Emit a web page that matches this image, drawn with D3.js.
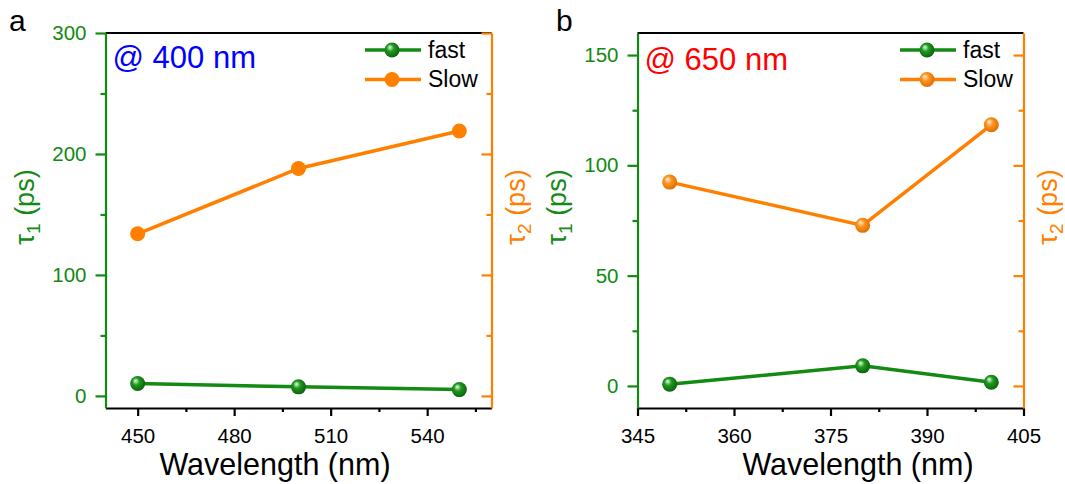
<!DOCTYPE html>
<html>
<head>
<meta charset="utf-8">
<script src="https://cdn.jsdelivr.net/npm/d3@7"></script>
<style>
    body { margin: 0; background: #fff; }
    svg { display: block; }
    text { font-family: "Liberation Sans", Arial, sans-serif; }
</style>
</head>
<body>
<div id="chart"></div>
<script>
// panel a (@ 400 nm)
const wavelengthsA = [450, 500, 550];
const fastA = [10.2, 7.5, 5.2];
const slowA = [134, 188, 219];
const xTicksA = [450, 480, 510, 540];
const xMinorA = [465, 495, 525, 555];
const yTicksA = [0, 100, 200, 300];
const yMinorA = [50, 150, 250];

// panel b (@ 650 nm)
const wavelengthsB = [350, 380, 400];
const fastB = [0.8, 9.1, 1.7];
const slowB = [92.4, 72.8, 118.4];
const xTicksB = [345, 360, 375, 390, 405];
const xMinorB = [352.5, 367.5, 382.5, 397.5];
const yTicksB = [0, 50, 100, 150];
const yMinorB = [25, 75, 125];

const seriesNames = ["fast", "Slow"];

const green = "#138a13";
const orange = "#ff8000";
const font = "'Liberation Sans', Arial, sans-serif";

let svg = d3.select("#chart").append("svg")
    .attr("width", 1065)
    .attr("height", 484);

// sphere-like marker fills
let defs = svg.append("defs");
function sphere(id, hi, mid, dark) {
    let g = defs.append("radialGradient")
        .attr("id", id)
        .attr("cx", "45%").attr("cy", "45%").attr("r", "60%")
        .attr("fx", "35%").attr("fy", "30%");
    g.append("stop").attr("offset", "0%").attr("stop-color", hi);
    g.append("stop").attr("offset", "40%").attr("stop-color", mid);
    g.append("stop").attr("offset", "100%").attr("stop-color", dark);
}
sphere("ballGreen", "#e8ffe8", "#1f9a1f", "#0a5c0a");
sphere("ballOrange", "#fff4e0", "#ff9420", "#d96a00");

function styleAxis(a, color, size) {
    a.selectAll("path, line").attr("stroke", color).attr("stroke-width", 2.2);
    a.selectAll("text").attr("font-size", size).attr("fill", color).style("font-family", font);
}

function drawPanel(p) {
    let top = 33, bottom = 408;

    let x = d3.scaleLinear().domain(p.xDomain).range([p.left, p.right]);
    let y = d3.scaleLinear().domain(p.yDomain).range([bottom, top]);

    let g = svg.append("g");

    // top frame
    g.append("line")
        .attr("x1", p.left).attr("x2", p.right)
        .attr("y1", top).attr("y2", top)
        .attr("stroke", "#000").attr("stroke-width", 2.2);

    // bottom axis
    let xAxis = g.append("g")
        .attr("transform", "translate(0," + bottom + ")")
        .call(d3.axisBottom(x).tickValues(p.xTicks).tickSize(8).tickSizeOuter(0).tickPadding(12));
    let xMinor = g.append("g")
        .attr("transform", "translate(0," + bottom + ")")
        .call(d3.axisBottom(x).tickValues(p.xMinor).tickSize(4).tickFormat(""));
    xMinor.select(".domain").remove();
    styleAxis(xAxis, "#000", 20.5);
    styleAxis(xMinor, "#000", 20.5);

    // left axis (tau 1)
    let yAxis = g.append("g")
        .attr("transform", "translate(" + p.left + ",0)")
        .call(d3.axisLeft(y).tickValues(p.yTicks).tickSize(10).tickSizeOuter(0).tickPadding(9));
    let yMinor = g.append("g")
        .attr("transform", "translate(" + p.left + ",0)")
        .call(d3.axisLeft(y).tickValues(p.yMinor).tickSize(5).tickFormat(""));
    yMinor.select(".domain").remove();
    styleAxis(yAxis, green, 20.5);
    styleAxis(yMinor, green, 20.5);

    // right axis (tau 2), ticks inward, no labels
    let y2Axis = g.append("g")
        .attr("transform", "translate(" + p.right + ",0)")
        .call(d3.axisRight(y).tickValues(p.yTicks).tickSize(-10).tickSizeOuter(0).tickFormat(""));
    let y2Minor = g.append("g")
        .attr("transform", "translate(" + p.right + ",0)")
        .call(d3.axisRight(y).tickValues(p.yMinor).tickSize(-5).tickFormat(""));
    y2Minor.select(".domain").remove();
    styleAxis(y2Axis, orange, 20);
    styleAxis(y2Minor, orange, 20);

    // axis titles
    g.append("text")
        .attr("x", p.xTitleX).attr("y", 475)
        .attr("text-anchor", "middle")
        .attr("font-size", 30.5)
        .text("Wavelength (nm)");

    function yTitle(xPos, color, sub) {
        let t = g.append("text")
            .attr("transform", "translate(" + xPos + ",207) rotate(-90)")
            .attr("text-anchor", "middle")
            .attr("font-size", 27)
            .attr("fill", color);
        t.append("tspan").text("τ");
        t.append("tspan").attr("font-size", 19).attr("dy", 6).text(sub);
        t.append("tspan").attr("dy", -6).text(" (ps)");
    }
    yTitle(p.left - 72, green, "1");
    yTitle(p.right + 33, orange, "2");

    // lines
    let line = d3.line()
        .x(d => x(d[0]))
        .y(d => y(d[1]));

    let fastPts = p.wl.map((w, i) => [w, p.fast[i]]);
    let slowPts = p.wl.map((w, i) => [w, p.slow[i]]);

    g.append("path").datum(slowPts)
        .attr("d", line).attr("fill", "none")
        .attr("stroke", orange).attr("stroke-width", 3.5);
    g.append("path").datum(fastPts)
        .attr("d", line).attr("fill", "none")
        .attr("stroke", green).attr("stroke-width", 3.5);

    g.selectAll(".slowDot").data(slowPts).enter()
        .append("circle")
        .attr("cx", d => x(d[0])).attr("cy", d => y(d[1]))
        .attr("r", 7.5)
        .attr("fill", p.slowFill);
    g.selectAll(".fastDot").data(fastPts).enter()
        .append("circle")
        .attr("cx", d => x(d[0])).attr("cy", d => y(d[1]))
        .attr("r", 7.5)
        .attr("fill", "url(#ballGreen)");

    // legend
    let fills = ["url(#ballGreen)", p.slowFill];
    let colors = [green, orange];
    seriesNames.forEach((name, i) => {
        let ly = 50 + i * 29.5;
        g.append("line")
            .attr("x1", p.legX).attr("x2", p.legX + 56)
            .attr("y1", ly).attr("y2", ly)
            .attr("stroke", colors[i]).attr("stroke-width", 3.5);
        g.append("circle")
            .attr("cx", p.legX + 27).attr("cy", ly)
            .attr("r", 7.5)
            .attr("fill", fills[i]);
        g.append("text")
            .attr("x", p.legX + 63).attr("y", ly + 7.5)
            .attr("font-size", 23)
            .text(name);
    });

    // excitation note
    g.append("text")
        .attr("x", p.left + 7).attr("y", p.noteY)
        .attr("font-size", 31)
        .attr("fill", p.noteColor)
        .text(p.note);

    // panel letter
    g.append("text")
        .attr("x", p.letterX).attr("y", 31)
        .attr("font-size", 30)
        .text(p.letter);
}

drawPanel({
    left: 105.5, right: 491.5,
    xDomain: [440, 560], yDomain: [-10, 300],
    xTicks: xTicksA, xMinor: xMinorA, yTicks: yTicksA, yMinor: yMinorA,
    wl: wavelengthsA, fast: fastA, slow: slowA,
    slowFill: orange,
    xTitleX: 275, legX: 365,
    note: "@ 400 nm", noteColor: "#0000ff", noteY: 68,
    letter: "a", letterX: 9
});

drawPanel({
    left: 637.5, right: 1023.5,
    xDomain: [345, 405], yDomain: [-10, 160],
    xTicks: xTicksB, xMinor: xMinorB, yTicks: yTicksB, yMinor: yMinorB,
    wl: wavelengthsB, fast: fastB, slow: slowB,
    slowFill: "url(#ballOrange)",
    xTitleX: 858, legX: 900,
    note: "@ 650 nm", noteColor: "#ff0000", noteY: 70,
    letter: "b", letterX: 556
});
</script>
</body>
</html>
